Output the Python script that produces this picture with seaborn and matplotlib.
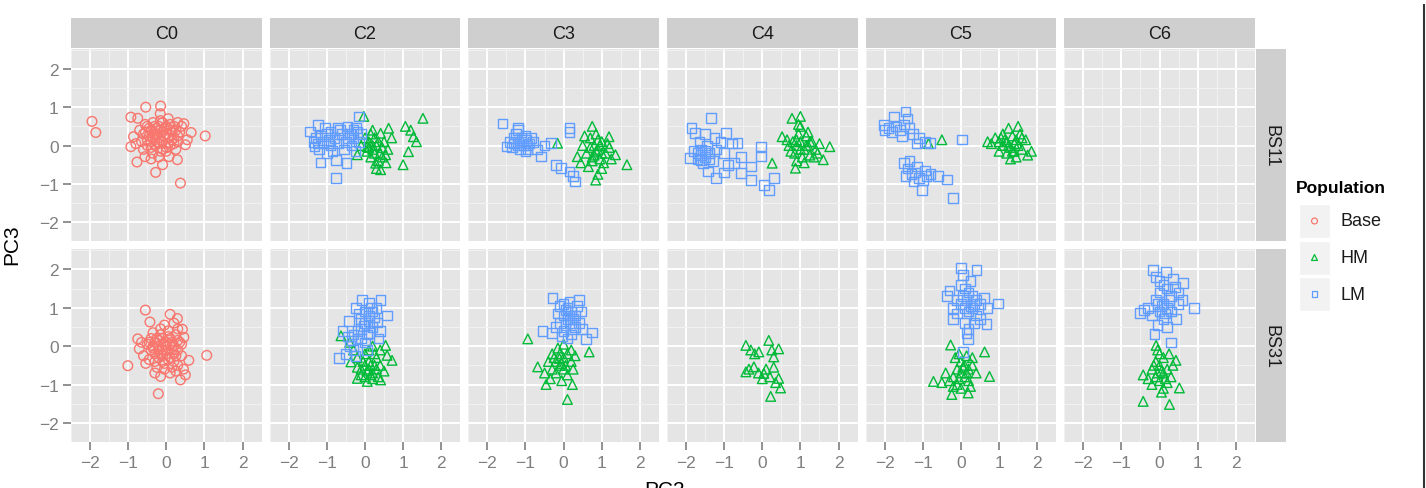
import matplotlib
matplotlib.use("Agg")
import numpy as np
import pandas as pd
import matplotlib.pyplot as plt
import seaborn as sns
from matplotlib.patches import Rectangle

""" Chart values """

clusters = ["C0", "C2", "C3", "C4", "C5", "C6"]
strains = ["BS11", "BS31"]
populations = ["Base", "HM", "LM"]
pop_colors = ["#F8766D", "#00BA38", "#619CFF"]
pop_markers = ["o", "^", "s"]
ticks = [-2, -1, 0, 1, 2]

# (PC2, PC3) points, one list per panel and population
c0_bs11_base = [(-1.95, 0.63), (-1.85, 0.34), (1.02, 0.25), (0.37, -0.98), (-0.15, 1.03), (-0.54, 1.0),
                (-0.16, 0.83), (-0.93, 0.74), (-0.75, 0.71), (0.46, 0.57), (0.65, 0.34), (-0.28, -0.70),
                (-0.10, -0.50), (-0.77, -0.43), (-0.56, -0.29), (-0.93, -0.03), (-0.86, 0.23), (0.29, -0.37),
                (0.50, 0.02), (0.55, 0.15), (0.07, -0.29), (-0.36, -0.2), (-0.5, 0.5), (-0.4, 0.4), (-0.3, 0.3),
                (-0.2, 0.2), (-0.1, 0.1), (0.0, 0.3), (0.1, 0.4), (0.2, 0.2), (-0.3, 0.0), (-0.4, 0.1),
                (-0.6, 0.3), (-0.2, 0.5), (0.0, 0.5), (0.2, 0.5), (-0.1, -0.1), (0.1, 0.0), (0.3, 0.1),
                (-0.5, 0.0), (-0.45, 0.25), (-0.25, 0.45), (-0.05, 0.25), (0.15, 0.15), (0.35, 0.35),
                (-0.35, 0.6), (-0.15, 0.65), (0.05, 0.7), (-0.55, 0.55), (-0.7, 0.4), (-0.65, 0.1),
                (0.25, -0.1), (-0.2, -0.3), (0.0, -0.15), (-0.4, -0.35), (0.4, 0.5), (0.3, 0.6),
                (-0.3, 0.15), (-0.1, 0.35), (0.05, 0.05), (-0.6, -0.1), (-0.8, 0.05),
                (-0.45, 0.45), (-0.35, 0.2), (-0.25, 0.1), (-0.15, 0.4), (-0.05, 0.45), (0.05, 0.2),
                (0.15, 0.35), (0.25, 0.4), (-0.3, 0.5), (-0.2, 0.05), (-0.5, 0.15), (0.1, 0.55),
                (-0.4, -0.05), (0.2, 0.05), (0.0, -0.05), (-0.1, 0.6), (-0.25, 0.3), (0.3, 0.25),
                (-0.55, 0.35), (-0.15, -0.15)]
c0_bs31_base = [(-0.55, 0.94), (-0.43, 0.63), (0.10, 0.83), (0.29, 0.72), (-1.01, -0.51), (1.06, -0.24),
                (-0.21, -1.24), (-0.15, -0.79), (0.37, -0.88), (0.5, -0.75), (0.59, -0.37), (0.46, 0.23),
                (0.42, 0.44), (-0.71, -0.07), (-0.75, 0.19), (-0.54, -0.45), (-0.4, 0.2), (-0.3, 0.1),
                (-0.2, 0.0), (-0.1, -0.1), (0.0, 0.1), (0.1, 0.2), (0.2, 0.0), (0.3, -0.1), (-0.3, -0.2),
                (-0.2, -0.3), (-0.1, -0.4), (0.0, -0.2), (0.1, -0.3), (0.2, -0.4), (0.3, -0.5), (-0.4, -0.1),
                (-0.5, 0.05), (-0.35, 0.35), (-0.15, 0.3), (0.05, 0.4), (0.25, 0.3), (0.35, 0.1),
                (-0.25, -0.55), (-0.05, -0.6), (0.15, -0.55), (0.4, -0.25), (-0.6, -0.25), (-0.45, -0.35),
                (0.0, 0.0), (-0.2, 0.15), (0.15, -0.1), (-0.1, 0.2), (0.3, 0.45), (0.45, -0.6), (-0.3, -0.7),
                (0.2, 0.6), (-0.05, 0.55), (0.1, -0.7), (-0.65, 0.1), (0.4, 0.05),
                (-0.35, -0.05), (-0.25, 0.2), (-0.15, -0.2), (-0.05, 0.05), (0.05, -0.35), (0.15, 0.1),
                (0.25, -0.25), (-0.3, -0.4), (-0.1, -0.25), (0.1, 0.05), (-0.45, 0.1), (0.05, 0.25),
                (-0.2, -0.1), (0.2, -0.2), (-0.05, -0.45), (0.3, 0.15), (-0.35, 0.0), (0.0, -0.1),
                (-0.15, 0.45), (0.25, -0.65)]
c2_bs11_lm = [(-1.45, 0.37), (-1.24, 0.54), (-0.16, 0.76), (-0.76, -0.85), (-1.17, -0.44), (-0.76, -0.37),
              (-0.48, -0.46), (-1.32, -0.03), (-0.72, 0.45), (-0.46, 0.5), (-0.24, 0.45), (-1.3, 0.2),
              (-1.1, 0.1), (-1.0, 0.3), (-0.9, 0.0), (-0.8, 0.2), (-0.6, 0.3), (-0.5, 0.1), (-0.4, 0.3),
              (-0.3, 0.2), (-0.2, 0.35), (-0.1, 0.3), (-1.2, -0.1), (-1.0, -0.2), (-0.9, 0.35), (-0.7, 0.05),
              (-0.55, -0.1), (-0.35, 0.0), (-0.15, 0.1), (-1.35, 0.1), (-0.65, 0.4), (-0.85, -0.15),
              (-1.05, 0.45), (-0.25, -0.15), (-1.15, 0.25), (-0.95, 0.15), (-0.45, 0.2), (-0.3, 0.4),
              (-1.25, 0.05)]
c2_bs11_hm = [(-0.03, 0.76), (1.52, 0.71), (1.0, -0.5), (1.06, 0.5), (1.27, 0.23), (1.14, -0.16), (0.62, 0.45),
              (0.41, 0.32), (0.41, -0.63), (0.28, -0.46), (0.54, -0.24), (-0.2, -0.24), (0.06, -0.03),
              (0.1, 0.1), (0.2, -0.1), (0.3, 0.0), (0.4, -0.2), (0.5, 0.1), (0.15, -0.3), (0.25, 0.2),
              (0.35, -0.4), (0.45, -0.05), (0.0, 0.2), (-0.1, 0.0), (0.6, -0.1), (0.7, 0.2), (1.2, 0.4),
              (1.35, 0.1), (0.3, -0.6), (0.2, 0.4), (0.55, -0.45), (0.05, -0.15), (0.15, 0.3),
              (0.25, -0.2), (0.35, 0.1), (0.1, -0.05), (0.45, -0.3), (0.2, 0.0)]
c2_bs31_lm = [(-0.07, 1.21), (0.41, 1.21), (0.58, 0.80), (0.10, 1.13), (-0.24, 1.0), (-0.42, 0.66),
              (-0.68, -0.31), (-0.59, 0.40), (-0.2, 0.19), (-0.03, 0.53), (0.32, 0.62), (0.0, 0.9), (0.1, 0.8),
              (0.2, 0.9), (0.3, 1.0), (-0.1, 0.7), (0.0, 0.6), (0.2, 0.5), (-0.3, 0.3), (-0.2, 0.4), (-0.1, 0.2),
              (0.0, 0.1), (-0.4, 0.0), (-0.3, -0.1), (-0.5, -0.2), (0.1, 0.35), (0.25, 0.75), (-0.15, 0.85),
              (0.15, 1.0), (0.4, 0.4), (-0.45, 0.25), (-0.25, -0.25), (0.05, -0.1), (0.35, 0.2),
              (-0.1, 0.45), (0.1, 0.65), (-0.35, 0.15), (0.05, 0.3)]
c2_bs31_hm = [(-0.63, 0.27), (0.71, -0.37), (0.06, -0.92), (0.41, -0.88), (-0.2, -0.84), (0.54, 0.02),
              (0.58, -0.24), (-0.37, -0.41), (0.0, -0.5), (0.1, -0.6), (0.2, -0.7), (0.3, -0.6), (-0.1, -0.6),
              (0.0, -0.8), (0.2, -0.85), (0.1, -0.4), (0.3, -0.3), (0.4, -0.5), (-0.2, -0.3), (-0.3, -0.1),
              (0.0, -0.2), (0.2, 0.0), (0.4, -0.1), (-0.1, -0.75), (0.15, -0.5), (0.25, -0.2), (-0.2, -0.55),
              (0.5, -0.65), (-0.4, 0.1), (0.1, -0.1), (0.35, -0.8), (0.05, -0.65), (0.15, -0.75),
              (0.25, -0.5), (-0.05, -0.4)]
c3_bs11_lm = [(-1.60, 0.57), (-1.19, 0.45), (-1.5, -0.03), (-0.98, 0.15), (-0.59, -0.29), (0.15, 0.45),
              (-0.07, -0.59), (0.15, -0.68), (0.30, -0.94), (-0.33, 0.06), (-1.4, 0.1), (-1.3, 0.2), (-1.2, 0.0),
              (-1.1, 0.1), (-1.0, 0.25), (-0.9, 0.05), (-0.8, 0.1), (-1.25, 0.3), (-1.15, -0.1), (-1.05, 0.0),
              (-0.95, -0.1), (-0.85, 0.2), (-1.35, -0.05), (-0.7, -0.1), (-0.5, 0.0), (-1.2, 0.4), (0.15, 0.35),
              (-0.2, -0.5), (0.25, -0.8), (-1.0, -0.15), (-1.1, 0.2), (-1.2, 0.1), (-0.95, 0.0), (-1.3, 0.05)]
c3_bs11_hm = [(0.75, 0.5), (1.19, 0.23), (1.66, -0.5), (0.84, -0.9), (-0.16, 0.06), (0.36, -0.29), (1.36, -0.24),
              (0.7, 0.2), (0.8, 0.0), (0.9, -0.1), (1.0, 0.1), (1.1, -0.2), (0.6, -0.2), (0.75, -0.4),
              (0.95, -0.35), (1.2, -0.05), (0.85, 0.3), (1.05, -0.45), (0.5, 0.0), (0.65, -0.55), (0.9, 0.15),
              (1.25, -0.35), (0.8, -0.25), (1.0, -0.6), (0.55, 0.25), (1.15, 0.05), (0.7, -0.05), (0.45, -0.45),
              (0.9, -0.75), (0.85, -0.15), (1.0, -0.2), (0.95, 0.0), (0.75, -0.3)]
c3_bs31_lm = [(-0.29, 1.26), (0.41, 1.21), (0.75, 0.36), (-0.55, 0.40), (0.58, 0.19), (-0.11, 1.04), (0.0, 1.1),
              (0.1, 1.0), (0.2, 0.9), (0.3, 0.8), (0.0, 0.8), (0.1, 0.7), (0.2, 0.6), (-0.1, 0.6), (0.3, 0.5),
              (0.4, 0.6), (-0.2, 0.5), (0.0, 0.4), (0.2, 0.3), (0.5, 0.45), (-0.3, 0.35), (0.1, 0.2),
              (-0.15, 0.85), (0.35, 1.05), (0.15, 1.15), (0.45, 0.9), (0.25, 0.45), (-0.05, 0.25),
              (0.05, 0.95), (0.15, 0.8), (0.25, 0.7), (0.05, 0.55)]
c3_bs31_hm = [(-0.94, 0.19), (0.10, -1.39), (0.67, -0.15), (-0.68, -0.54), (-0.46, -1.0), (0.23, -1.0),
              (-0.11, -0.32), (-0.3, -0.2), (-0.2, -0.4), (-0.1, -0.5), (0.0, -0.3), (0.1, -0.2), (0.2, -0.4),
              (-0.3, -0.6), (-0.2, -0.7), (0.0, -0.6), (0.1, -0.75), (-0.4, -0.4), (-0.5, -0.7), (0.3, -0.25),
              (0.2, -0.1), (-0.15, -0.05), (0.0, 0.05), (-0.35, -0.85), (0.25, -0.6), (-0.05, -0.9),
              (-0.1, -0.2), (-0.05, -0.45), (0.05, -0.5), (-0.25, -0.3)]
c4_bs11_lm = [(-1.34, 0.71), (-1.86, 0.45), (-1.77, 0.32), (-0.95, 0.32), (-0.65, 0.06), (-0.04, -0.03),
              (-0.04, -0.29), (0.30, -0.85), (0.17, -1.16), (0.04, -1.03), (-0.30, -0.90), (-0.56, -0.72),
              (-1.21, -0.85), (-1.43, -0.68), (-1.6, -0.37), (-1.9, -0.33), (-0.74, -0.46), (-0.30, -0.55),
              (-1.7, -0.2), (-1.6, -0.1), (-1.5, -0.3), (-1.4, -0.2), (-1.3, -0.4), (-1.55, -0.45), (-1.45, 0.0),
              (-1.2, -0.1), (-1.1, 0.1), (-1.0, -0.2), (-1.65, 0.1), (-1.8, -0.15), (-1.25, 0.2), (-0.9, -0.5),
              (-1.0, -0.7), (-1.5, 0.3), (-0.8, 0.05), (-0.55, -0.3), (-1.6, -0.25), (-1.5, -0.15),
              (-1.7, -0.35), (-1.4, -0.35)]
c4_bs11_hm = [(0.78, 0.71), (1.0, 0.76), (0.52, 0.23), (1.77, -0.03), (0.87, -0.59), (0.26, -0.46), (1.6, -0.37),
              (0.8, 0.1), (0.9, 0.0), (1.0, 0.1), (1.1, -0.1), (1.2, 0.0), (1.3, 0.1), (1.4, -0.1), (0.7, 0.0),
              (0.85, -0.2), (1.05, -0.3), (1.25, -0.25), (0.95, 0.3), (1.15, 0.25), (1.35, -0.3), (0.75, -0.15),
              (1.0, 0.5), (0.9, -0.4), (1.5, 0.05), (1.2, 0.35), (1.1, -0.45), (0.65, 0.15), (1.45, -0.2),
              (0.95, 0.55), (1.0, -0.1), (1.15, 0.0), (0.9, 0.15), (1.25, 0.1)]
c4_bs31_hm = [(-0.43, 0.02), (0.17, 0.15), (0.43, -0.07), (0.30, -0.28), (-0.09, -0.15), (-0.43, -0.67),
              (0.22, -1.31), (0.48, -1.09), (0.43, -0.84), (0.04, -0.71), (-0.22, -0.54), (-0.3, -0.1),
              (-0.2, -0.2), (0.3, -0.55), (0.1, -0.6), (0.2, -0.8), (0.0, -0.85), (-0.1, -0.7), (0.35, -0.95),
              (-0.35, -0.6), (0.25, -0.1)]
c5_bs11_lm = [(-1.45, 0.89), (-1.76, 0.76), (-2.02, 0.54), (-1.9, 0.45), (-1.7, 0.5), (-1.6, 0.4), (-1.5, 0.55),
              (-1.35, 0.45), (-1.25, 0.3), (-1.1, 0.2), (-0.95, 0.1), (-0.81, 0.06), (-1.8, 0.35), (-1.55, 0.25),
              (-1.4, 0.7), (-2.0, 0.4), (-1.15, 0.05), (0.03, 0.16), (-1.5, -0.46), (-1.02, -1.16),
              (-1.24, -0.94), (-1.4, -0.6), (-1.3, -0.75), (-1.2, -0.7), (-1.1, -0.85), (-1.0, -0.9),
              (-0.9, -0.8), (-0.8, -0.75), (-1.35, -0.4), (-1.15, -0.55), (-0.6, -0.8), (-0.36, -0.89),
              (-0.2, -1.36), (-1.45, -0.8), (-0.95, -0.65)]
c5_bs11_hm = [(1.0, 0.1), (1.1, 0.0), (1.2, 0.1), (1.3, -0.05), (1.4, 0.05), (1.5, 0.0), (1.6, -0.1), (1.2, -0.2),
              (1.35, 0.25), (1.1, 0.3), (0.9, 0.2), (0.8, 0.05), (1.7, 0.15), (1.75, -0.25), (1.45, -0.3),
              (1.25, 0.45), (1.5, 0.5), (1.0, -0.15), (1.3, -0.35), (1.55, 0.3), (0.7, 0.1), (1.85, -0.15),
              (1.15, 0.15), (1.4, -0.15), (1.6, 0.2), (-0.5, 0.15), (-0.85, 0.05), (1.25, 0.0),
              (1.35, -0.15), (1.05, 0.2), (1.45, 0.15)]
c5_bs31_lm = [(0.0, 2.03), (0.41, 1.98), (-0.37, 1.3), (0.97, 1.11), (-0.2, 0.7), (0.67, 0.57), (0.19, 0.19),
              (0.06, -0.15), (0.0, 1.6), (0.1, 1.5), (0.2, 1.4), (0.3, 1.3), (0.4, 1.2), (0.5, 1.1), (0.6, 1.25),
              (-0.1, 1.2), (0.0, 1.1), (0.1, 1.0), (0.2, 0.9), (0.3, 1.0), (0.4, 0.8), (-0.2, 1.0), (-0.1, 0.85),
              (0.5, 0.7), (0.1, 0.6), (0.2, 0.45), (0.05, 1.85), (0.25, 1.7), (0.7, 1.0), (-0.3, 1.45),
              (0.15, 0.35), (0.35, 0.6), (0.15, 1.2), (0.35, 1.1), (0.05, 1.3), (0.25, 1.05)]
c5_bs31_hm = [(-0.27, 0.03), (0.62, -0.15), (0.75, -0.79), (-0.72, -0.92), (-0.24, -1.26), (0.19, -1.22),
              (0.0, -0.4), (0.1, -0.5), (0.2, -0.6), (0.3, -0.5), (-0.1, -0.6), (0.0, -0.7), (0.1, -0.8),
              (0.2, -0.9), (-0.2, -0.8), (-0.3, -0.9), (-0.1, -1.0), (0.0, -1.1), (0.3, -0.3), (0.4, -0.7),
              (-0.4, -0.7), (-0.5, -0.95), (0.15, -0.25), (-0.15, -0.3), (0.25, -1.05), (-0.05, -0.2),
              (0.05, -0.55), (-0.05, -0.85), (0.15, -0.7), (-0.2, -1.05)]
c6_bs31_lm = [(-0.17, 1.98), (0.17, 1.94), (0.61, 1.64), (0.91, 1.0), (-0.52, 0.87), (-0.13, 0.32), (0.30, 0.10),
              (0.43, 0.70), (-0.1, 1.8), (0.0, 1.7), (0.1, 1.6), (0.2, 1.5), (0.4, 1.55), (0.5, 1.4), (0.3, 1.3),
              (0.0, 1.4), (-0.1, 1.2), (0.1, 1.1), (0.2, 1.0), (0.3, 0.9), (0.0, 0.9), (-0.2, 0.8), (-0.3, 1.0),
              (0.1, 0.7), (0.2, 0.5), (0.5, 1.1), (-0.05, 0.55), (0.35, 1.75), (0.6, 1.2), (-0.4, 0.95),
              (0.05, 1.05), (0.15, 0.85), (-0.05, 1.1), (0.25, 1.2)]
c6_bs31_hm = [(-0.09, 0.02), (0.43, -0.37), (-0.43, -1.44), (0.26, -1.52), (-0.43, -0.75), (0.52, -1.09),
              (0.0, -0.2), (0.1, -0.3), (-0.1, -0.4), (0.0, -0.5), (0.2, -0.6), (-0.2, -0.6), (0.1, -0.7),
              (-0.1, -0.8), (0.0, -0.9), (0.2, -0.95), (-0.2, -1.0), (0.1, -1.1), (0.3, -0.8), (-0.3, -0.85),
              (0.35, -0.5), (0.05, -1.2), (-0.05, -0.1), (0.25, -0.2), (0.05, -0.65), (-0.05, -0.7),
              (0.15, -0.85), (-0.15, -0.5)]

groups = [("C0", "BS11", "Base", c0_bs11_base), ("C0", "BS31", "Base", c0_bs31_base),
          ("C2", "BS11", "LM", c2_bs11_lm), ("C2", "BS11", "HM", c2_bs11_hm),
          ("C2", "BS31", "LM", c2_bs31_lm), ("C2", "BS31", "HM", c2_bs31_hm),
          ("C3", "BS11", "LM", c3_bs11_lm), ("C3", "BS11", "HM", c3_bs11_hm),
          ("C3", "BS31", "LM", c3_bs31_lm), ("C3", "BS31", "HM", c3_bs31_hm),
          ("C4", "BS11", "LM", c4_bs11_lm), ("C4", "BS11", "HM", c4_bs11_hm),
          ("C4", "BS31", "HM", c4_bs31_hm),
          ("C5", "BS11", "LM", c5_bs11_lm), ("C5", "BS11", "HM", c5_bs11_hm),
          ("C5", "BS31", "LM", c5_bs31_lm), ("C5", "BS31", "HM", c5_bs31_hm),
          ("C6", "BS31", "LM", c6_bs31_lm), ("C6", "BS31", "HM", c6_bs31_hm)]

rows = []
for clus, strain, pop, pts in groups:
    for x, y in pts:
        rows.append((clus, strain, pop, x, y))
df = pd.DataFrame(rows, columns=["Cluster", "Strain", "Population", "PC2", "PC3"])

""" Plot """

plt.rcParams["font.family"] = ["Liberation Sans", "DejaVu Sans"]

g = sns.FacetGrid(df, row="Strain", col="Cluster", hue="Population",
                  row_order=strains, col_order=clusters, hue_order=populations,
                  palette=pop_colors, hue_kws={"marker": pop_markers},
                  despine=False, height=2, aspect=1)
g.map(plt.scatter, "PC2", "PC3", s=48, facecolors="none", linewidths=1.0)
g.set_titles("")
g.set_axis_labels("", "")

fig = g.figure
fig.set_size_inches(14.26, 4.89)
fig.subplots_adjust(left=0.0498, right=0.880, top=0.898, bottom=0.094, wspace=0.042, hspace=0.042)

minor = [-2.5, -1.5, -0.5, 0.5, 1.5, 2.5]
n_rows, n_cols = g.axes.shape
for (i, j), ax in np.ndenumerate(g.axes):
    ax.set_facecolor("#E5E5E5")
    ax.set_xlim(-2.47, 2.49)
    ax.set_ylim(-2.5, 2.52)
    ax.set_xticks(ticks)
    ax.set_yticks(ticks)
    ax.set_xticks(minor, minor=True)
    ax.set_yticks(minor, minor=True)
    ax.set_xticklabels([str(t).replace("-", "\u2212") for t in ticks])
    ax.set_yticklabels([str(t).replace("-", "\u2212") for t in ticks])
    ax.grid(which="major", color="white", linewidth=1.4)
    ax.grid(which="minor", color="#F2F2F2", linewidth=0.7)
    ax.set_axisbelow(True)
    for sp in ax.spines.values():
        sp.set_visible(False)
    ax.tick_params(which="major", length=6, width=1.2, color="#7F7F7F",
                   labelcolor="#7F7F7F", labelsize=12.5, pad=3,
                   bottom=(i == n_rows - 1), left=(j == 0))
    ax.tick_params(which="minor", length=0)
    if i == 0:
        ax.add_patch(Rectangle((0, 1.006), 1, 0.152, transform=ax.transAxes,
                               clip_on=False, facecolor="#CFCFCF", edgecolor="none"))
        ax.text(0.5, 1.082, clusters[j], transform=ax.transAxes, ha="center",
                va="center", fontsize=13, color="#1A1A1A")
    if j == n_cols - 1:
        ax.add_patch(Rectangle((1.006, 0), 0.155, 1, transform=ax.transAxes,
                               clip_on=False, facecolor="#CFCFCF", edgecolor="none"))
        ax.text(1.083, 0.5, strains[i], transform=ax.transAxes, ha="center",
                va="center", rotation=-90, fontsize=13, color="#1A1A1A")

fig.text(0.0085, 0.5, "PC3", rotation=90, ha="center", va="center", fontsize=15)
fig.text(0.4657, 1 - 481 / 489, "PC2", ha="center", va="top", fontsize=15)

# legend drawn in pixel coordinates on an overlay axes
lg = fig.add_axes([0, 0, 1, 1])
lg.set_xlim(0, 1426)
lg.set_ylim(489, 0)
lg.axis("off")
lg.patch.set_alpha(0)
lg.text(1296, 188, "Population", fontsize=12.5, fontweight="bold", ha="left", va="center")
for k, (pop, col, mk) in enumerate(zip(populations, pop_colors, pop_markers)):
    yc = 222 + k * 36.5
    lg.add_patch(Rectangle((1299, yc - 17), 31, 34, facecolor="#F2F2F2", edgecolor="white", linewidth=1))
    lg.scatter([1314.5], [yc], s=18, marker=mk, facecolors="none", edgecolors=col, linewidths=0.9)
    lg.text(1340, yc, pop, fontsize=13, ha="left", va="center", color="#1A1A1A")
lg.plot([1424, 1424], [6, 489], color="#333333", linewidth=1.5)

fig.savefig("out.png", dpi=100)
